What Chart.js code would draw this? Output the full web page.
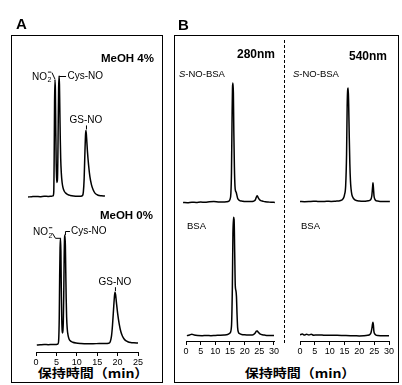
<!DOCTYPE html>
<html>
<head>
<meta charset="utf-8">
<script src="https://cdn.jsdelivr.net/npm/chart.js@4.4.1/dist/chart.umd.min.js"></script>
<style>
html, body { margin: 0; padding: 0; background: #fff; }
#fig { position: relative; width: 402px; height: 385px; overflow: hidden; color: #000;
       font-family: "Liberation Sans", Arial, sans-serif; }
#fig canvas { position: absolute; }
.t { position: absolute; white-space: nowrap; line-height: 1; transform: translateZ(0); }
.b { font-weight: bold; }
.box { position: absolute; border: 1px solid #000; box-sizing: border-box; }
.xt { font-family: "Noto Sans CJK JP", sans-serif; font-weight: bold; font-size: 12.5px;
      transform: translateX(-50%) scaleX(1.12); }
</style>
</head>
<body>
<div id="fig">
  <div class="box" style="left:11px;top:35px;width:152px;height:348px"></div>
  <div class="box" style="left:174px;top:35px;width:225px;height:348px"></div>
  <div style="position:absolute;left:284px;top:40px;height:303px;border-left:1px dashed #000"></div>

  <div class="t b" style="left:16px;top:16px;font-size:15px">A</div>
  <div class="t b" style="left:178px;top:17px;font-size:15px">B</div>
  <div class="t b" style="right:248px;top:53px;font-size:11.5px">MeOH 4%</div>
  <div class="t b" style="right:249px;top:210px;font-size:11.5px">MeOH 0%</div>
  <div class="t b" style="right:127px;top:48px;font-size:12px">280nm</div>
  <div class="t b" style="right:15px;top:50px;font-size:12px">540nm</div>
  <div class="t" style="left:179px;top:69px;font-size:9.5px"><i>S</i>-NO-BSA</div>
  <div class="t" style="left:293px;top:69px;font-size:9.5px"><i>S</i>-NO-BSA</div>
  <div class="t" style="left:187px;top:221px;font-size:9.5px">BSA</div>
  <div class="t" style="left:301px;top:221px;font-size:9.5px">BSA</div>
  <div class="t xt" style="left:93px;top:367px">保持時間（min）</div>
  <div class="t xt" style="left:300px;top:367px">保持時間（min）</div>

  <canvas id="cA4"></canvas>
  <canvas id="cA0"></canvas>
  <canvas id="cB1"></canvas>
  <canvas id="cB2"></canvas>
  <canvas id="cB3"></canvas>
  <canvas id="cB4"></canvas>
</div>

<script>
// retention time (min) / detector signal (% of the tallest peak)
// A: MeOH 4%
const timeA4 = [-1.95,-1.0,0.0,1.0,2.0,3.0,3.8,4.2,4.35,4.45,4.55,4.65,4.75,4.85,4.95,5.05,5.15,5.25,5.35,5.45,5.55,5.65,5.75,5.85,5.95,6.05,6.2,6.4,6.6,6.9,7.3,7.8,8.4,9.2,10.2,11.0,11.4,11.6,11.8,12.0,12.15,12.25,12.4,12.6,12.9,13.2,13.6,14.0,14.5,15.2,16.0,16.9];
const sigA4  = [0,0.3,0.5,0.3,0.6,0.5,0.6,1,4,30,78,97,88,55,28,16,12,14,30,62,90,100,93,70,48,32,20,12,8,5,3.2,2,1.3,0.8,0.6,0.6,1.2,4,15,38,52,55,49,38,26,17,10,6,3,1.5,1,0.8];
// A: MeOH 0%
const timeA0 = [0.2,1.0,2.0,3.0,4.0,5.0,5.4,5.55,5.7,5.8,5.9,6.0,6.1,6.2,6.3,6.4,6.5,6.6,6.7,6.8,6.9,7.0,7.1,7.2,7.3,7.4,7.5,7.65,7.85,8.1,8.5,9.0,9.8,11,12.5,14,15.5,17,17.8,18.2,18.5,18.75,19.0,19.2,19.35,19.5,19.7,20.0,20.4,20.8,21.2,21.6,22.0,22.5,23.2,24.0,25.0];
const sigA0  = [0,0.2,0.4,0.3,0.4,0.5,1,4,25,62,88,97,85,52,26,14,11,13,22,45,78,97,100,90,66,42,26,15,9,5.5,3.5,2.5,1.8,1.4,1.2,1.2,1.3,1.3,1.6,3,8,18,32,43,48,46,39,29,19,12,8,5.5,4,3,2.3,2,1.8];
// B: S-NO-BSA 280 nm
const timeSnoBsa280 = [-1.0,0.5,2.0,3.5,5.0,6.5,8.0,9.5,11.0,12.5,13.8,14.6,15.0,15.3,15.5,15.7,15.85,16.0,16.15,16.3,16.5,16.7,16.9,17.1,17.3,17.6,18.0,18.5,19.2,20.0,21.0,22.0,23.0,23.6,24.0,24.3,24.6,25.0,25.5,26.2,27.0,28.0,29.0,30.3];
const sigSnoBsa280  = [0.5,0.3,0.6,0.5,0.8,0.6,1.0,1.2,0.9,0.8,1,1.5,3,8,25,70,96,100,92,60,30,14,10,9,7,4,2.5,1.8,1.5,1.2,1.3,1.2,1.5,2.5,5,6,4.5,3,2,1.5,1,0.8,0.6,0.5];
// B: S-NO-BSA 540 nm
const timeSnoBsa540 = [0,1.5,3,4.5,6,7.5,9,10.5,12,13.2,14.0,14.6,15.0,15.4,15.7,15.9,16.1,16.25,16.4,16.6,16.8,17.0,17.2,17.5,17.9,18.4,19.0,20,21,22,23,23.8,24.2,24.45,24.6,24.75,24.95,25.3,25.8,26.5,27.5,28.5,30.3];
const sigSnoBsa540  = [0.5,0.3,0.4,0.6,0.5,0.4,0.6,0.5,0.7,0.9,1.5,3,6,14,40,80,94,95,82,55,32,18,11,6,3.5,2,1.2,0.8,0.6,0.7,1,1.8,5,12,16,12,5,2,1,0.7,0.5,0.5,0.4];
// B: BSA 280 nm
const timeBsa280 = [0.3,1.2,2.0,2.8,4,5.5,7,8.5,10,11.5,13,14.2,15.0,15.5,15.8,16.0,16.2,16.4,16.6,16.8,17.0,17.2,17.4,17.6,17.9,18.3,19,20,21,22,23,23.6,24.0,24.3,24.7,25.2,26,27,28,29,30];
const sigBsa280  = [0.3,0.8,1.5,0.8,0.4,0.3,0.4,0.3,0.5,0.6,0.8,1.2,2.5,8,40,85,99,97,70,42,38,33,18,7,3,2,1.3,1,0.9,0.8,1.2,2.5,4,4.2,3,1.8,1,0.7,0.5,0.4,0.4];
// B: BSA 540 nm
const timeBsa540 = [0,0.8,1.5,2.2,3.0,3.8,4.6,5.5,6.5,8,9.5,11,12.5,14,15.5,17,18.5,20,21.5,22.8,23.5,23.9,24.2,24.45,24.6,24.75,24.9,25.2,25.6,26.2,27,28,29,30];
const sigBsa540  = [1.0,1.6,0.8,1.5,0.9,1.4,0.7,0.8,0.9,0.7,0.6,0.7,0.6,0.5,0.4,0.3,0.2,0.1,0.2,0.6,1.2,2.5,6,10,11.5,9,4,1.8,0.8,0.4,0.3,0.3,0.2,0.2];

const ticksA = [0, 5, 10, 15, 20, 25];
const ticksB = [0, 5, 10, 15, 20, 25, 30];

const FONT = '"Liberation Sans", Arial, sans-serif';

// highest point of a trace between lo and hi (min)
function peakAt(t, v, lo, hi) {
  let best = null;
  t.forEach((x, i) => { if (x >= lo && x <= hi && (!best || v[i] > best[1])) best = [x, v[i]]; });
  return best;
}

function line(ctx, x1, y1, x2, y2) {
  ctx.beginPath(); ctx.moveTo(x1, y1); ctx.lineTo(x2, y2); ctx.stroke();
}

function label(ctx, s, x, y, align, base) {
  ctx.font = '10px ' + FONT;
  ctx.textAlign = align; ctx.textBaseline = base;
  ctx.fillText(s, x, y);
}

// "NO2-" with the right edge at x, baseline at y
function no2(ctx, x, y) {
  ctx.textAlign = 'left'; ctx.textBaseline = 'alphabetic';
  ctx.font = '10px ' + FONT;
  const wNO = ctx.measureText('NO').width;
  ctx.font = '7px ' + FONT;
  const w2 = ctx.measureText('2').width;
  const x0 = x - w2 - wNO - 0.5;
  ctx.font = '10px ' + FONT;
  ctx.fillText('NO', x0, y);
  ctx.font = '7px ' + FONT;
  ctx.fillText('2', x0 + wNO + 0.5, y + 2.5);
  ctx.fillRect(x0 + wNO + 0.8, y - 8, w2 - 0.5, 0.9);
}

function trace(id, o) {
  const cv = document.getElementById(id);
  const [L, T, R, B] = o.canvas;
  cv.width = R - L; cv.height = B - T;
  cv.style.left = L + 'px'; cv.style.top = T + 'px';
  const [al, at, ar, ab] = o.area;
  const axisH = o.ticks ? B - ab : 0;
  const xmin = (al - o.x0) / o.ppm, xmax = (ar - o.x0) / o.ppm;
  const ymax = (o.base - at) / o.ppu, ymin = (o.base - ab) / o.ppu;

  new Chart(cv, {
    type: 'line',
    data: {
      datasets: [{
        data: o.t.map((t, i) => ({x: t, y: o.v[i]})),
        borderColor: '#000', borderWidth: 1.5, pointRadius: 0,
        cubicInterpolationMode: 'monotone', fill: false
      }]
    },
    options: {
      responsive: false, animation: false, events: [],
      layout: {padding: {left: al - L, right: R - ar, top: at - T, bottom: o.ticks ? 0 : B - ab}},
      plugins: {legend: {display: false}, tooltip: {enabled: false}},
      scales: {
        x: {
          type: 'linear', min: xmin, max: xmax, display: !!o.ticks,
          afterFit: s => { s.height = axisH; },
          afterBuildTicks: s => { if (o.ticks) s.ticks = o.ticks.map(v => ({value: v})); },
          grid: {drawOnChartArea: false, drawTicks: true, tickLength: 4, color: '#000'},
          border: {display: true, color: '#000', width: 1},
          ticks: {color: '#000', font: {family: FONT, size: 9}, padding: 1, maxRotation: 0, autoSkip: false}
        },
        y: {display: false, min: ymin, max: ymax}
      }
    },
    plugins: [{
      id: 'notes_' + id,
      afterDatasetsDraw(chart) {
        if (!o.notes) return;
        const ctx = chart.ctx;
        const X = v => chart.scales.x.getPixelForValue(v);
        const Y = v => chart.scales.y.getPixelForValue(v);
        ctx.save();
        ctx.strokeStyle = '#000'; ctx.fillStyle = '#000'; ctx.lineWidth = 1;
        o.notes(ctx, X, Y);
        ctx.restore();
      }
    }]
  });
}

const mapA = {x0: 36, ppm: (138 - 36) / 25};
const mapBL = {x0: 186, ppm: (274 - 186) / 30};
const mapBR = {x0: 300, ppm: (389 - 300) / 30};

trace('cA4', Object.assign({}, mapA, {
  canvas: [12, 60, 161, 205], area: [24, 70, 112, 200], base: 197, ppu: 1.21,
  t: timeA4, v: sigA4,
  notes(ctx, X, Y) {
    let p = peakAt(timeA4, sigA4, 4, 5.1), x = X(p[0]), y = Y(p[1]);
    line(ctx, x - 3, y - 7, x, y - 0.5);
    no2(ctx, x - 3.5, y);
    p = peakAt(timeA4, sigA4, 5.2, 6.5); x = X(p[0]); y = Y(p[1]);
    line(ctx, x, y + 0.5, x + 7, y + 0.5);
    label(ctx, 'Cys-NO', x + 8.5, y + 0.5, 'left', 'middle');
    p = peakAt(timeA4, sigA4, 10, 15); x = X(p[0]); y = Y(p[1]);
    line(ctx, x + 0.5, y - 5, x + 0.5, y - 1);
    label(ctx, 'GS-NO', x, y - 7, 'center', 'alphabetic');
  }
}));

trace('cA0', Object.assign({}, mapA, {
  canvas: [12, 205, 161, 368], area: [36, 225, 138, 352], base: 345, ppu: 1.1,
  t: timeA0, v: sigA0, ticks: ticksA,
  notes(ctx, X, Y) {
    let p = peakAt(timeA0, sigA0, 5, 6.4), x = X(p[0]), y = Y(p[1]);
    ctx.beginPath(); ctx.moveTo(x - 8, y - 5); ctx.lineTo(x - 5, y); ctx.lineTo(x, y); ctx.stroke();
    no2(ctx, x - 8, y - 3);
    p = peakAt(timeA0, sigA0, 6.5, 8); x = X(p[0]); y = Y(p[1]);
    ctx.beginPath(); ctx.moveTo(x + 0.5, y); ctx.lineTo(x + 0.5, y - 3.5); ctx.lineTo(x + 5, y - 3.5); ctx.stroke();
    label(ctx, 'Cys-NO', x + 6, y - 3.5, 'left', 'middle');
    p = peakAt(timeA0, sigA0, 17, 22); x = X(p[0]); y = Y(p[1]);
    line(ctx, x + 0.5, y - 5, x + 0.5, y - 1);
    label(ctx, 'GS-NO', x, y - 7, 'center', 'alphabetic');
  }
}));

trace('cB1', Object.assign({}, mapBL, {
  canvas: [176, 60, 283, 215], area: [180, 78, 280, 210], base: 203, ppu: 1.2,
  t: timeSnoBsa280, v: sigSnoBsa280
}));
trace('cB2', Object.assign({}, mapBL, {
  canvas: [176, 210, 283, 357], area: [186, 212, 274, 341], base: 336, ppu: 1.2,
  t: timeBsa280, v: sigBsa280, ticks: ticksB
}));
trace('cB3', Object.assign({}, mapBR, {
  canvas: [286, 60, 397, 215], area: [293, 78, 393, 210], base: 202, ppu: 1.2,
  t: timeSnoBsa540, v: sigSnoBsa540
}));
trace('cB4', Object.assign({}, mapBR, {
  canvas: [286, 210, 397, 357], area: [300, 212, 389, 341], base: 336, ppu: 1.2,
  t: timeBsa540, v: sigBsa540, ticks: ticksB
}));
</script>
</body>
</html>
